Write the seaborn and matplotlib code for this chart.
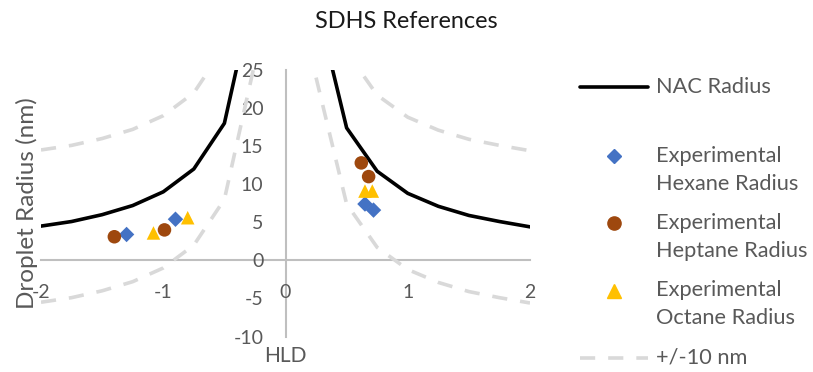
import matplotlib
matplotlib.use("Agg")
import matplotlib.pyplot as plt
from matplotlib.lines import Line2D
import seaborn as sns
import pandas as pd

sns.set_style("white")
plt.rcParams["font.family"] = ["Lato", "DejaVu Sans"]

# NAC model radius vs HLD (two branches, either side of HLD = 0)
hld_neg = [-2.0, -1.75, -1.5, -1.25, -1.0, -0.75, -0.5, -0.25]
nac_neg = [4.5, 5.1, 6.0, 7.2, 9.0, 12.0, 18.0, 36.0]
hld_pos = [0.25, 0.5, 0.75, 1.0, 1.25, 1.5, 1.75, 2.0]
nac_pos = [34.0, 17.4, 11.7, 8.8, 7.1, 5.9, 5.1, 4.4]
band = 10.0  # +/- 10 nm envelope

# Experimental droplet radii
hexane_hld = [-1.30, -0.90, 0.65, 0.72]
hexane_r = [3.4, 5.4, 7.4, 6.6]
heptane_hld = [-1.40, -0.99, 0.62, 0.68]
heptane_r = [3.1, 4.0, 12.8, 11.0]
octane_hld = [-1.08, -0.80, 0.65, 0.71]
octane_r = [3.6, 5.6, 9.1, 9.1]

xticks = [-2, -1, 0, 1, 2]
yticks = [-10, -5, 0, 5, 10, 15, 20, 25]

TXT = "#595959"
AXC = "#BFBFBF"
DASH = "#D9D9D9"
C_HEX = "#4472C4"
C_HEP = "#9E480E"
C_OCT = "#FFC000"

W, H = 813, 372
fig = plt.figure(figsize=(W / 100, H / 100), dpi=100)
ax = fig.add_axes([41 / W, (H - 336.5) / H, 489 / W, 266.5 / H])

for xs, ys in [(hld_neg, nac_neg), (hld_pos, nac_pos)]:
    up = pd.DataFrame({"HLD": xs, "R": [v + band for v in ys]})
    lo = pd.DataFrame({"HLD": xs, "R": [v - band for v in ys]})
    for d in (up, lo):
        sns.lineplot(data=d, x="HLD", y="R", ax=ax, sort=False, color=DASH,
                     lw=2.6, dashes=False, estimator=None)
        ax.lines[-1].set_dashes((4.2, 3.6))
    nac = pd.DataFrame({"HLD": xs, "R": ys})
    sns.lineplot(data=nac, x="HLD", y="R", ax=ax, sort=False, color="black",
                 lw=2.6, estimator=None)

sns.scatterplot(x=hexane_hld, y=hexane_r, ax=ax, marker="D", s=62,
                color=C_HEX, edgecolor="none", zorder=5)
sns.scatterplot(x=heptane_hld, y=heptane_r, ax=ax, marker="o", s=95,
                color=C_HEP, edgecolor="none", zorder=5)
sns.scatterplot(x=octane_hld, y=octane_r, ax=ax, marker="^", s=95,
                color=C_OCT, edgecolor="none", zorder=5)

ax.set_xlim(-2, 2)
ax.set_ylim(-10, 25)
ax.set_xticks(xticks)
ax.set_yticks(yticks)
ax.set_xticklabels([str(t) for t in xticks])
ax.set_yticklabels([str(t) for t in yticks])
ax.set_xlabel("")
ax.set_ylabel("")

for side in ("top", "right"):
    ax.spines[side].set_visible(False)
ax.spines["left"].set_position(("data", 0))
ax.spines["bottom"].set_position(("data", 0))
for side in ("left", "bottom"):
    ax.spines[side].set_color(AXC)
    ax.spines[side].set_linewidth(1.5)
    ax.spines[side].set_zorder(0)
ax.tick_params(axis="both", length=0, labelsize=14, labelcolor=TXT)
ax.tick_params(axis="y", pad=16)
ax.tick_params(axis="x", pad=17)
ax.patch.set_alpha(0)

ax.text(0, -12.5, "HLD", ha="center", va="center", fontsize=15, color=TXT,
        clip_on=False)
fig.text(27 / W, 1 - 203 / H, "Droplet Radius (nm)", rotation=90,
         ha="center", va="center", fontsize=17.5, color=TXT)
fig.text(406 / W, 1 - 22 / H, "SDHS References", ha="center", va="center",
         fontsize=16.9, color="#1a1a1a")

# legend drawn in figure pixel coordinates
def fx(px):
    return px / W


def fy(py):
    return 1 - py / H


fig.add_artist(Line2D([fx(580), fx(648)], [fy(87), fy(87)], color="black",
                      lw=2.6, transform=fig.transFigure))
fig.add_artist(Line2D([fx(580), fx(648)], [fy(358), fy(358)], color=DASH,
                      lw=2.6, dashes=(4.2, 3.6), transform=fig.transFigure))
fig.add_artist(Line2D([fx(614)], [fy(156)], marker="D", markersize=7.5,
                      color=C_HEX, lw=0, transform=fig.transFigure))
fig.add_artist(Line2D([fx(614)], [fy(223)], marker="o", markersize=9.5,
                      color=C_HEP, lw=0, transform=fig.transFigure))
fig.add_artist(Line2D([fx(614)], [fy(291)], marker="^", markersize=9.5,
                      color=C_OCT, lw=0, transform=fig.transFigure))

legend_text = [
    ("NAC Radius", 87),
    ("Experimental", 156), ("Hexane Radius", 184),
    ("Experimental", 223), ("Heptane Radius", 251),
    ("Experimental", 290), ("Octane Radius", 318),
    ("+/-10 nm", 357),
]
for s, py in legend_text:
    fig.text(fx(656), fy(py), s, ha="left", va="center", fontsize=15.7,
             color=TXT)

fig.savefig("out.png", dpi=100)
